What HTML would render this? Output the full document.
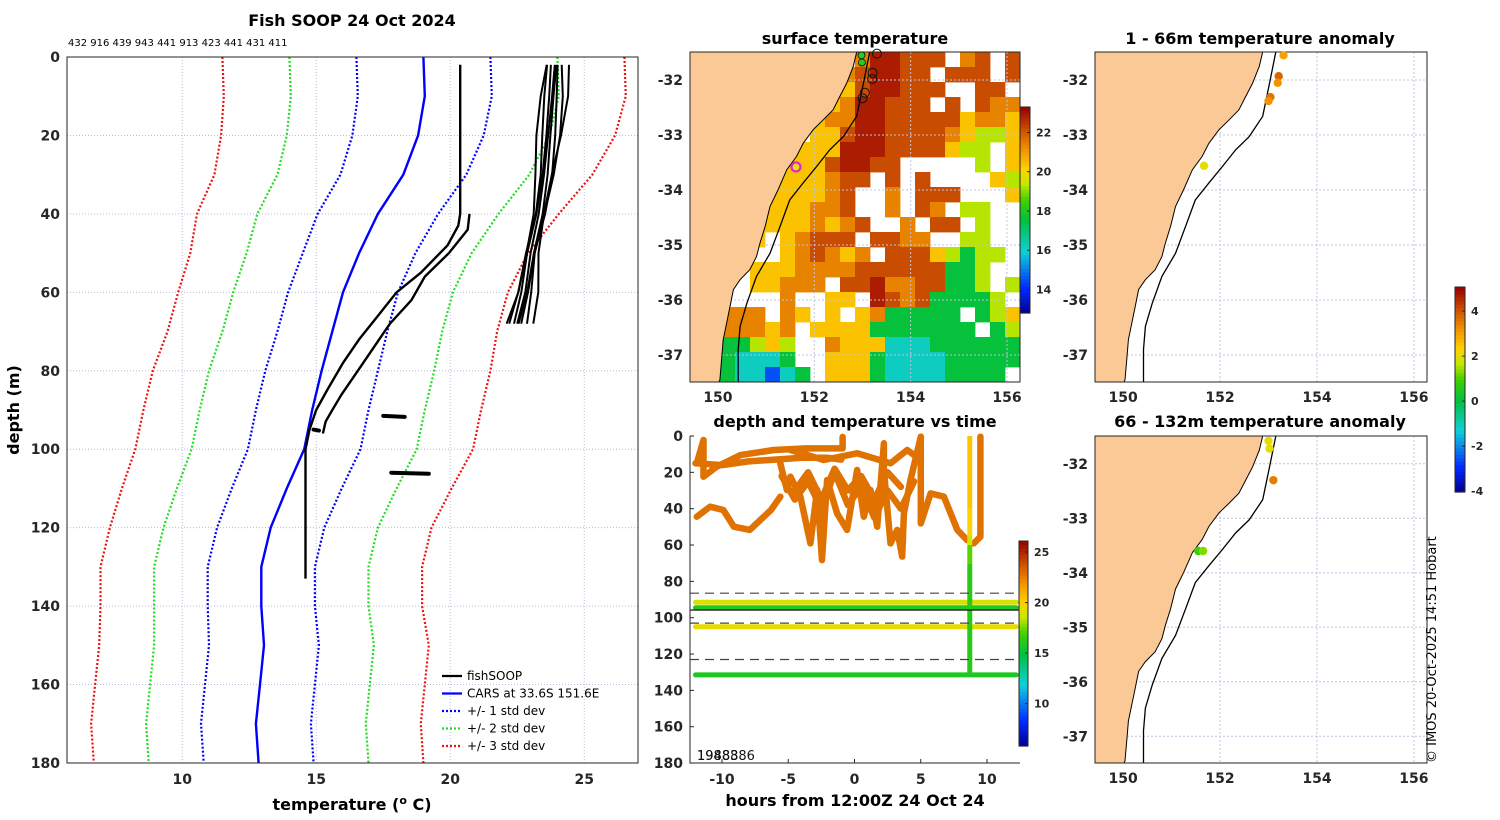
<!DOCTYPE html>
<html><head><meta charset="utf-8"><style>
html,body{margin:0;padding:0;background:#fff;}
svg{display:block;font-family:"DejaVu Sans","Liberation Sans",sans-serif;}
.t{font-weight:bold;font-size:16px;}
.k{font-weight:bold;font-size:14px;fill:#262626;}
</style></head><body>
<svg id="fig" width="1500" height="820" viewBox="0 0 1500 820" xmlns="http://www.w3.org/2000/svg">
<text class="t" x="352" y="26" text-anchor="middle">Fish SOOP 24 Oct 2024</text>
<text x="68" y="46" font-size="10">432 916 439 943 441 913 423 441 431 411</text>
<text class="t" x="855" y="44" text-anchor="middle">surface temperature</text>
<text class="t" x="1260" y="44" text-anchor="middle">1 - 66m temperature anomaly</text>
<text class="t" x="855" y="427" text-anchor="middle">depth and temperature vs time</text>
<text class="t" x="1260" y="427" text-anchor="middle">66 - 132m temperature anomaly</text>
<text class="t" x="352" y="810" text-anchor="middle">temperature (<tspan dy="-6" font-size="11">o</tspan><tspan dy="6"> C)</tspan></text>
<text class="t" transform="translate(19,410) rotate(-90)" text-anchor="middle">depth (m)</text>
<text class="t" x="855" y="806" text-anchor="middle">hours from 12:00Z 24 Oct 24</text>
<text x="1436" y="763" font-size="13" transform="rotate(-90 1436 763)">© IMOS 20-Oct-2025 14:51 Hobart</text>
<g id="g"></g>
</svg>
<script>
// ---- main profile data ----
const carsDepth=[0,10,20,30,40,50,60,70,80,90,100,110,120,130,140,150,160,170,180];
const carsMean=[19.0,19.05,18.8,18.25,17.3,16.6,16.0,15.6,15.2,14.85,14.55,13.9,13.3,12.95,12.95,13.05,12.9,12.75,12.85];
const carsSd=[2.5,2.5,2.45,2.35,2.25,2.1,2.05,2.05,2.1,2.1,2.1,2.05,2.0,2.0,2.0,2.05,2.05,2.05,2.05];
const fishADepth=[2,40,43,48,55,60,66,72,78,85,90,95,100,133];
const fishATemp=[20.37,20.37,20.3,19.9,18.9,18.0,17.3,16.6,16.0,15.4,15.0,14.75,14.6,14.6];
const fishBDepth=[40,44,50,56,62,68,74,80,86,90,93,96];
const fishBTemp=[20.37,20.3,19.6,18.7,18.2,17.4,16.8,16.2,15.6,15.25,15.0,14.9];
const clusterDepth=[2,10,20,30,40,50,60,68];
const clusterTemp=[23.9,23.8,23.65,23.5,23.3,23.0,22.8,22.5];
const clusterOffsets=[-0.3,-0.2,-0.1,0,0.1,0.2,0.3,0.4];
const blobTemp=[[17.5,18.3],[17.8,19.2],[14.9,15.1]];
const blobDepth=[91.5,106,95];
const xTicks=[10,15,20,25];
const yTicks=[0,20,40,60,80,100,120,140,160,180];
// ---- time plot data ----
const trackA_h=[-11.9,-11.4,-11.4,-10.4,-8.6,-6.1,-3.6,-0.9,-0.9];
const trackA_d=[15,2.2,22.4,16.9,10.5,7.7,6.8,6.8,0.5];
const trackB_h=[-11.9,-10.9,-9.9,-9.1,-7.9,-6.3,-5.6];
const trackB_d=[44.4,38.9,40.7,49.9,51.7,40.7,33.4];
const trackC_h=[-5.6,-5.1,-4.84,-4.08,-3.33,-2.82,-2.45,-2.07,-1.31,-0.56,0.2,0.7,1.21,1.71,2.22,2.22,2.72,3.22,3.6,3.73,4.23,5.0,5.0,5.74,6.75,7.76,8.5];
const trackC_d=[15,29.7,22.4,33.4,59.1,29.7,68.3,24.2,42.6,51.7,18.7,44.4,29.7,49.9,4,18.7,59.1,51.7,66.4,42.6,24.2,0.4,48.1,31.6,33.4,51.7,57.3];
const trackD_h=[9.5,9.5,9.0];
const trackD_d=[0.4,55.4,59.1];
const trackE_h=[-4.84,-2.32,0.2,2.72,3.98,5.0];
const trackE_d=[7.7,13.2,9.5,15.0,7.7,13.2];
const trackF_h=[-5.5,-4.5,-3.5,-2.5,-1.5,-0.5,0.5,1.5,2.5,3.5,4.5];
const trackF_d=[22,35,25,40,20,38,28,45,30,40,25];
const trackG_h=[-12,-10,-8,-6,-4,-2,-1];
const trackG_d=[15,16,14,13,12,12,13];
const trackH_h=[-4.5,-3.5,-2.5,-1.5,-0.5,0.5,1.5,2.5,3.5];
const trackH_d=[30,20,35,18,30,22,35,20,28];
const trackTemp=22.9;
const bandDepth=[91.5,94.5,105,131.5];
const bandTemp=[19.0,15.9,19.4,15.9];
const vertHour=8.7;
const vertDepth=[0,40,55,60,70,131];
const vertTemp=[20.5,20.3,19.5,18,16.5,16.0];
const dashDepth=[86.5,103,123];
const solidDepth=[95.8];
const hourTicks=[-10,-5,0,5,10];
// ---- maps data ----
const sstRows=[
"LLLLLLLLLLLoRROOO.oO.O",
"LLLLLLLLLLoORROO.OOO.O",
"LLLLLLLLLLyORROOO..OO.",
"LLLLLLLLLyoRROOO.O.Ooo",
"LLLLLLLLyooRROOOOOyooy",
"LLLLLLLLyyORROOOOoyggy",
"LLLLLLLyyyRRROOOOygg.y",
"LLLLLLyyyORROO.....g.y",
"LLLLLLyyyoOO.O.O....yg",
"LLLLLyyyyoO..o.OOO...y",
"LLLLLyyyooO..o.Oo.gg..",
"LLLLyyyyoyoO..o.OO.g..",
"LLLLy.yoOOO.OOoo..gg..",
"LLLL..yoOoyo.OOOygGgg.",
"LLLLyyyooooOOOOOOGGg..",
"LLL.yyooo.OORooOOGGg.g",
"LLL...o..yy.ROoOGGGGg.",
"LLooo.oy.y.yoGGGGG.Ggy",
"LLoooyo.yyyyGGGGGGG.Gg",
"LLGGgyg..oyyycccGGGGGG",
"LLGcccG..yyyGccccGGGGG",
"LLGccbcG.yyyGccccGGGG."];
const sstCode={R:22.9,O:22.2,o:21.4,y:20.4,g:19.3,G:17.6,c:16.2,b:14.5};
const coastLon=[152.88,152.81,152.67,152.53,152.39,152.19,151.98,151.77,151.63,151.43,151.25,151.08,150.98,150.87,150.80,150.66,150.46,150.32,150.25,150.18,150.11,150.08,150.04,150.02];
const coastLat=[-31.45,-31.75,-32.06,-32.30,-32.54,-32.72,-32.90,-33.15,-33.39,-33.63,-33.99,-34.30,-34.66,-34.97,-35.21,-35.45,-35.63,-35.81,-36.12,-36.42,-36.72,-37.03,-37.45,-37.6];
const isoLon=[153.15,153.02,152.88,152.6,152.32,152.05,151.77,151.49,151.29,151.08,150.80,150.6,150.46,150.42,150.42];
const isoLat=[-31.45,-32.06,-32.66,-33.03,-33.27,-33.57,-33.87,-34.18,-34.66,-35.15,-35.57,-36.06,-36.48,-36.9,-37.6];
const ringLon=[153.3,153.21,153.2,153.05,153.0];
const ringLat=[-31.52,-31.87,-31.98,-32.23,-32.33];
const greenLon=[152.98,152.99];const greenLat=[-31.55,-31.68];
const magLon=[151.62];const magLat=[-33.58];
const anom1Lon=[153.31,153.21,153.19,153.04,153.0,151.67];
const anom1Lat=[-31.55,-31.93,-32.05,-32.31,-32.38,-33.56];
const anom1Val=[3.0,3.8,3.2,3.6,3.2,2.0];
const anom2Lon=[153.0,153.02,153.1,151.55,151.65];
const anom2Lat=[-31.58,-31.72,-32.3,-33.6,-33.6];
const anom2Val=[2.1,2.0,3.5,0.9,1.3];
const latTicks=[-32,-33,-34,-35,-36,-37];
const lonTicks=[150,152,154,156];
const sstCbTicks=[14,16,18,20,22];
const timeCbTicks=[10,15,20,25];
const anomCbTicks=[-4,-2,0,2,4];

const NS='http://www.w3.org/2000/svg';
const G=document.getElementById('g');
function mk(tag,attrs,parent){const e=document.createElementNS(NS,tag);for(const k in attrs)e.setAttribute(k,attrs[k]);(parent||G).appendChild(e);return e;}
const stops=[[0,[0,0,143]],[0.12,[0,40,255]],[0.3,[16,208,216]],[0.45,[0,192,64]],[0.55,[64,208,0]],[0.63,[200,232,0]],[0.7,[255,210,0]],[0.8,[240,144,0]],[0.88,[208,88,0]],[1,[154,0,0]]];
function cmap(f){f=Math.max(0,Math.min(1,f));for(let i=1;i<stops.length;i++){if(f<=stops[i][0]){const a=stops[i-1],b=stops[i],t=(f-a[0])/(b[0]-a[0]);const c=a[1].map((v,j)=>Math.round(v+(b[1][j]-v)*t));return 'rgb('+c.join(',')+')';}}return 'rgb(154,0,0)';}
function poly(xs,ys){return xs.map((x,i)=>x.toFixed(1)+','+ys[i].toFixed(1)).join(' ');}

// ===== main axes =====
const MX=t=>67+(t-5.7)*26.8, MY=d=>57+d*3.922;
const gm=mk('g',{});


xTicks.forEach(t=>{const l=mk('line',{x1:MX(t),x2:MX(t),y1:57,y2:763,stroke:'#b8bcd8','stroke-dasharray':'1,2'},gm);


const tx=mk('text',{x:MX(t),y:784,'text-anchor':'middle',class:'k'},gm);tx.textContent=t;

});
yTicks.forEach(d=>{const l=mk('line',{x1:67,x2:638,y1:MY(d),y2:MY(d),stroke:'#b8bcd8','stroke-dasharray':'1,2'},gm);


const tx=mk('text',{x:60,y:MY(d)+5,'text-anchor':'end',class:'k'},gm);tx.textContent=d;

});
const sdCols=['#0000ff','#22dd22','#ee1111'];
[3,2,1].forEach(k=>{[-1,1].forEach(s=>{const p=mk('polyline',{points:poly(carsMean.map((m,i)=>MX(m+s*k*carsSd[i])),carsDepth.map(MY)),fill:'none',stroke:sdCols[k-1],'stroke-width':2.2,'stroke-dasharray':'2,2'},gm);

});});
const cm=mk('polyline',{points:poly(carsMean.map(MX),carsDepth.map(MY)),fill:'none',stroke:'#0000ff','stroke-width':2.4},gm);


clusterOffsets.forEach((o,j)=>{const p=mk('polyline',{points:poly(clusterTemp.map((t,i)=>MX(t+o*(1+0.5*Math.sin(i+j)))),clusterDepth.map(MY)),fill:'none',stroke:'#000','stroke-width':2},gm);

});
const fa=mk('polyline',{points:poly(fishATemp.map(MX),fishADepth.map(MY)),fill:'none',stroke:'#000','stroke-width':2.4},gm);


const fb=mk('polyline',{points:poly(fishBTemp.map(t=>MX(t+0.35)),fishBDepth.map(MY)),fill:'none',stroke:'#000','stroke-width':2.4},gm);


blobTemp.forEach((r,i)=>{const b=mk('line',{x1:MX(r[0]),x2:MX(r[1]),y1:MY(blobDepth[i]),y2:MY(blobDepth[i])+1,stroke:'#000','stroke-width':4,'stroke-linecap':'round'},gm);

});
const mb=mk('rect',{x:67,y:57,width:571,height:706,fill:'none',stroke:'#262626','stroke-width':1},gm);


const legLabels=['fishSOOP','CARS at 33.6S 151.6E','+/- 1 std dev','+/- 2 std dev','+/- 3 std dev'];
const legCols=['#000','#0000ff','#0000ff','#22dd22','#ee1111'];
legLabels.forEach((s,i)=>{const y=676+i*17.5;const l=mk('line',{x1:442,x2:462,y1:y,y2:y,stroke:legCols[i],'stroke-width':2.2,'stroke-dasharray':i>1?'2,2':'none'},gm);


const t=mk('text',{x:467,y:y+4,'font-size':12},gm);t.textContent=s;

});

// ===== map helper =====
function mapAxes(box,name){const g=mk('g',{});


const X=lon=>box.x+(lon-149.42)*box.w/6.85, Y=lat=>box.y+(-31.49-lat)*box.h/6.0;
return {g,X,Y};}
function drawMapBase(m,box){
latTicks.forEach(la=>{const l=mk('line',{x1:box.x,x2:box.x+box.w,y1:m.Y(la),y2:m.Y(la),stroke:'#c0c4e0','stroke-dasharray':'2,2'},m.g);


const t=mk('text',{x:box.x-7,y:m.Y(la)+5,'text-anchor':'end',class:'k'},m.g);t.textContent=la;

});
lonTicks.forEach(lo=>{const l=mk('line',{x1:m.X(lo),x2:m.X(lo),y1:box.y,y2:box.y+box.h,stroke:'#c0c4e0','stroke-dasharray':'2,2'},m.g);


const t=mk('text',{x:m.X(lo),y:box.y+box.h+20,'text-anchor':'middle',class:'k'},m.g);t.textContent=lo;

});}
function drawLand(m,box){
const xs=[box.x].concat(coastLon.map(m.X)).concat([box.x]);
const ys=[box.y].concat(coastLat.map(m.Y)).concat([box.y+box.h]);
const land=mk('polygon',{points:poly(xs,ys.map(y=>Math.max(box.y,Math.min(box.y+box.h,y)))),fill:'#fbc996',stroke:'#000','stroke-width':1},m.g);


const iso=mk('polyline',{points:poly(isoLon.map(m.X),isoLat.map(y=>Math.max(box.y,Math.min(box.y+box.h,m.Y(y))))),fill:'none',stroke:'#000','stroke-width':1.3},m.g);


const fr=mk('rect',{x:box.x,y:box.y,width:box.w,height:box.h,fill:'none',stroke:'#262626'},m.g);

}
function colorbar(x,y,w,h,lo,hi,ticks,name){const g=mk('g',{});


const n=60;for(let i=0;i<n;i++){const r=mk('rect',{x:x,y:y+h-(i+1)*h/n,width:w,height:h/n+0.6,fill:cmap((i+0.5)/n)},g);

}
const fr=mk('rect',{x:x,y:y,width:w,height:h,fill:'none',stroke:'#262626'},g);


ticks.forEach(v=>{const yy=y+h-(v-lo)/(hi-lo)*h;const tl=mk('line',{x1:x+w-3,x2:x+w,y1:yy,y2:yy,stroke:'#262626'},g);


const t=mk('text',{x:x+w+6,y:yy+4,'font-size':11,'font-weight':'bold',fill:'#262626'},g);t.textContent=v;

});}

// ===== SST map =====
const sb={x:690,y:52,w:330,h:330};
const sm=mapAxes(sb,'sst-map');
const sLo=12.8,sHi=23.3,cw=sb.w/22,ch=sb.h/22;
sstRows.forEach((row,r)=>{for(let c=0;c<row.length;c++){const v=sstCode[row[c]];if(v===undefined)continue;
const cell=mk('rect',{x:sb.x+c*cw,y:sb.y+r*ch,width:cw+0.4,height:ch+0.4,fill:cmap((v-sLo)/(sHi-sLo))},sm.g);

}});
drawMapBase(sm,sb);
drawLand(sm,sb);
ringLon.forEach((lo,i)=>{const c=mk('circle',{cx:sm.X(lo),cy:sm.Y(ringLat[i]),r:4.5,fill:'none',stroke:'#111','stroke-width':1},sm.g);

});
greenLon.forEach((lo,i)=>{const c=mk('circle',{cx:sm.X(lo),cy:sm.Y(greenLat[i]),r:3.5,fill:'#22cc22',stroke:'#111','stroke-width':0.8},sm.g);

});
const mg=mk('circle',{cx:sm.X(magLon[0]),cy:sm.Y(magLat[0]),r:4.5,fill:'#f0e000',stroke:'#e020e0','stroke-width':2.2},sm.g);


colorbar(1020,107,10,206,sLo,sHi,sstCbTicks,'sst-colorbar');

// ===== time plot =====
const TX=h=>722+(h+10)*13.25, TY=d=>436+d*1.817;
const tg=mk('g',{});


const tcLo=5.8,tcHi=26.1,tf=v=>cmap((v-tcLo)/(tcHi-tcLo));
[[trackA_h,trackA_d],[trackB_h,trackB_d],[trackC_h,trackC_d],[trackD_h,trackD_d],[trackE_h,trackE_d],[trackF_h,trackF_d],[trackG_h,trackG_d],[trackH_h,trackH_d]].forEach(tr=>{const p=mk('polyline',{points:poly(tr[0].map(TX),tr[1].map(TY)),fill:'none',stroke:tf(trackTemp),'stroke-width':6.5,'stroke-linejoin':'round','stroke-linecap':'round'},tg);

});
bandDepth.forEach((d,i)=>{const b=mk('line',{x1:TX(-12),x2:TX(12.2),y1:TY(d),y2:TY(d),stroke:tf(bandTemp[i]),'stroke-width':5,'stroke-linecap':'round'},tg);

});
for(let i=1;i<vertDepth.length;i++){const s=mk('line',{x1:TX(vertHour),x2:TX(vertHour),y1:TY(vertDepth[i-1]),y2:TY(vertDepth[i]),stroke:tf((vertTemp[i-1]+vertTemp[i])/2),'stroke-width':5},tg);

}
dashDepth.forEach(d=>{const l=mk('line',{x1:690,x2:1020,y1:TY(d),y2:TY(d),stroke:'#444','stroke-width':1.2,'stroke-dasharray':'9,6'},tg);

});
solidDepth.forEach(d=>{const l=mk('line',{x1:690,x2:1020,y1:TY(d),y2:TY(d),stroke:'#000','stroke-width':1.2},tg);

});
yTicks.forEach(d=>{const t=mk('text',{x:683,y:TY(d)+5,'text-anchor':'end',class:'k'},tg);t.textContent=d;


const tl=mk('line',{x1:690,x2:694,y1:TY(d),y2:TY(d),stroke:'#262626'},tg);

});
hourTicks.forEach(h=>{const t=mk('text',{x:TX(h),y:784,'text-anchor':'middle',class:'k'},tg);t.textContent=h;


const tl=mk('line',{x1:TX(h),x2:TX(h),y1:763,y2:759,stroke:'#262626'},tg);

});
const ax=mk('polyline',{points:'690,436 690,763 1020,763',fill:'none',stroke:'#262626'},tg);


['1988386','19488'].forEach(s=>{const t=mk('text',{x:697,y:760,'font-size':13,fill:'#111'},tg);t.textContent=s;

});
colorbar(1019,541,9,205,tcLo,tcHi,timeCbTicks,'time-colorbar');

// ===== anomaly maps =====
const aLo=-4.04,aHi=5.07;
function anomMap(box,lons,lats,vals,name){const m=mapAxes(box,name);drawMapBase(m,box);drawLand(m,box);
lons.forEach((lo,i)=>{const c=mk('circle',{cx:m.X(lo),cy:m.Y(lats[i]),r:4.2,fill:cmap((vals[i]-aLo)/(aHi-aLo))},m.g);

});}
anomMap({x:1095,y:52,w:332,h:330},anom1Lon,anom1Lat,anom1Val,'anomaly-map-shallow');
anomMap({x:1095,y:436,w:332,h:327},anom2Lon,anom2Lat,anom2Val,'anomaly-map-deep');
colorbar(1455,287,10,205,aLo,aHi,anomCbTicks,'anomaly-colorbar');
</script>
</body></html>
